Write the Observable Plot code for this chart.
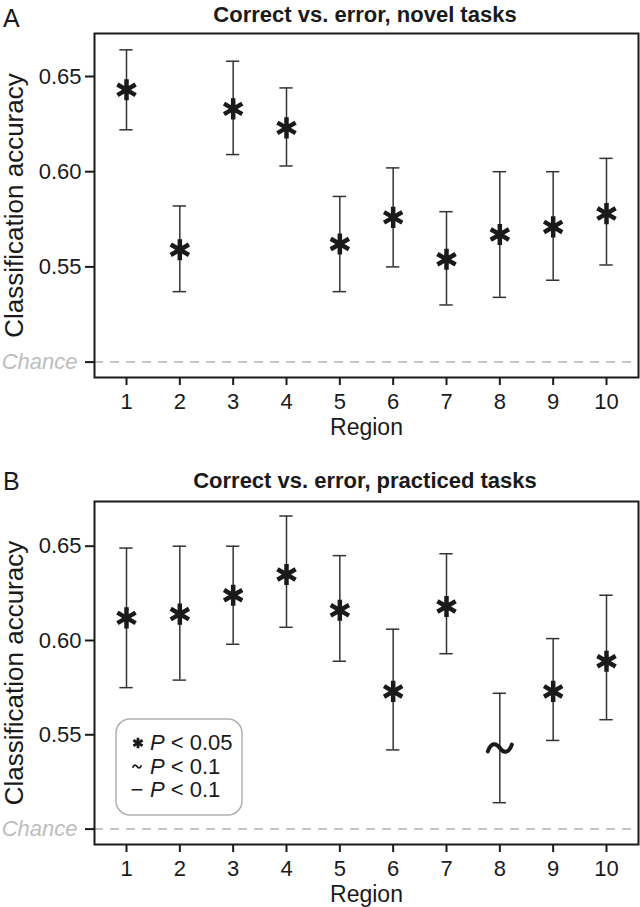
<!DOCTYPE html>
<html><head><meta charset="utf-8">
<script src="https://cdn.jsdelivr.net/npm/d3@7"></script>
<script src="https://cdn.jsdelivr.net/npm/@observablehq/plot@0.6"></script>
<style>
body{margin:0;background:#fff;font-family:"Liberation Sans",Arial,Helvetica,sans-serif;}
#fig{position:relative;width:640px;height:907px;overflow:hidden;}
.panel{position:absolute;left:0;}
#overlay{position:absolute;left:0;top:0;pointer-events:none;}
</style>
</head><body>
<div id="fig"></div>
<script>
// ---- data ----
const regions = [1, 2, 3, 4, 5, 6, 7, 8, 9, 10];
const novelAcc = [0.643, 0.559, 0.633, 0.623, 0.562, 0.576, 0.554, 0.567, 0.571, 0.578];
const novelLo  = [0.622, 0.537, 0.609, 0.603, 0.537, 0.550, 0.530, 0.534, 0.543, 0.551];
const novelHi  = [0.664, 0.582, 0.658, 0.644, 0.587, 0.602, 0.579, 0.600, 0.600, 0.607];
const novelSig = ["*", "*", "*", "*", "*", "*", "*", "*", "*", "*"];
const practAcc = [0.612, 0.614, 0.624, 0.635, 0.616, 0.573, 0.618, 0.543, 0.573, 0.589];
const practLo  = [0.575, 0.579, 0.598, 0.607, 0.589, 0.542, 0.593, 0.514, 0.547, 0.558];
const practHi  = [0.649, 0.650, 0.650, 0.666, 0.645, 0.606, 0.646, 0.572, 0.601, 0.624];
const practSig = ["*", "*", "*", "*", "*", "*", "*", "~", "*", "*"];
const chance = 0.5;
const yTicks = [0.5, 0.55, 0.6, 0.65];
const yTickLabels = ["Chance", "0.55", "0.60", "0.65"];
const titles = ["Correct vs. error, novel tasks", "Correct vs. error, practiced tasks"];
const panelLetters = ["A", "B"];
const legendItems = [["*", "0.05"], ["~", "0.1"], ["\u2212", "0.1"]];

const FONT = "Liberation Sans, Arial, Helvetica, sans-serif";
const INK = "#1a1a1a";

// custom tilde symbol for the "~" significance marker
const tildeSymbol = {
  draw(ctx, size) {
    const w = Math.sqrt(size / Math.PI);
    ctx.moveTo(-w, 0.28 * w);
    ctx.bezierCurveTo(-0.72 * w, -0.5 * w, -0.3 * w, -0.42 * w, 0, 0);
    ctx.bezierCurveTo(0.3 * w, 0.42 * w, 0.72 * w, 0.5 * w, w, -0.28 * w);
  }
};

function panel(acc, lo, hi, sig, yDomain, height, mt, mb) {
  const data = regions.map((r, i) => ({region: r, acc: acc[i], lo: lo[i], hi: hi[i], sig: sig[i]}));
  const cap = 0.125;
  return Plot.plot({
    width: 640, height,
    marginLeft: 94, marginRight: 2, marginTop: mt, marginBottom: mb,
    style: {fontFamily: FONT, fontSize: "22px", color: INK, background: "transparent", overflow: "visible"},
    x: {domain: [0.4, 10.6]},
    y: {domain: yDomain},
    marks: [
      Plot.ruleY([chance], {stroke: "#c4c4c4", strokeWidth: 2, strokeDasharray: "9,7"}),
      Plot.axisX(regions, {tickSize: 8, tickPadding: 8, fontSize: 22, strokeWidth: 2, stroke: INK, label: null, tickFormat: d => String(d)}),
      Plot.text(["Region"], {frameAnchor: "bottom", lineAnchor: "middle", textAnchor: "middle", dy: 50, fontSize: 23, fill: INK}),
      Plot.axisY(yTicks, {tickSize: 9, tickPadding: 4, fontSize: 22, strokeWidth: 2, stroke: INK, label: null,
        tickFormat: d => d === chance ? "" : yTickLabels[yTicks.indexOf(d)]}),
      Plot.text([chance], {y: d => d, frameAnchor: "left", dx: -17, textAnchor: "end", lineAnchor: "middle", fontSize: 22,
        fill: "#bdbdbd", fontStyle: "italic", text: d => yTickLabels[yTicks.indexOf(d)]}),
      Plot.text(["Classification accuracy"], {frameAnchor: "left", textAnchor: "middle", lineAnchor: "middle", dx: -80, rotate: -90, fontSize: 26, fill: INK}),
      Plot.ruleX(data, {x: "region", y1: "lo", y2: "hi", stroke: "#333", strokeWidth: 1.5}),
      Plot.ruleY(data, {y: "lo", x1: d => d.region - cap, x2: d => d.region + cap, stroke: "#333", strokeWidth: 1.5}),
      Plot.ruleY(data, {y: "hi", x1: d => d.region - cap, x2: d => d.region + cap, stroke: "#333", strokeWidth: 1.5}),
      Plot.dot(data.filter(d => d.sig === "*"), {x: "region", y: "acc", symbol: "asterisk", r: 10, stroke: INK, strokeWidth: 4.5}),
      Plot.dot(data.filter(d => d.sig === "~"), {x: "region", y: "acc", symbol: tildeSymbol, r: 12, stroke: INK, strokeWidth: 4, fill: "none", strokeLinecap: "round"}),
      Plot.frame({stroke: INK, strokeWidth: 2})
    ]
  });
}

const fig = document.getElementById("fig");
const pA = panel(novelAcc, novelLo, novelHi, novelSig, [0.49191, 0.67258], 440, 33, 63);
pA.classList.add("panel"); pA.style.top = "0px";
fig.appendChild(pA);
const pB = panel(practAcc, practLo, practHi, practSig, [0.49183, 0.6737], 467, 61, 63);
pB.classList.add("panel"); pB.style.top = "440px";
fig.appendChild(pB);

// ---- overlay: panel letters, titles, legend ----
const ov = d3.select(fig).append("svg").attr("id", "overlay").attr("width", 640).attr("height", 907)
  .style("font-family", FONT);
[[27, 22], [490, 488]].forEach(([ly, ty], i) => {
  ov.append("text").attr("x", 3).attr("y", ly).attr("font-size", 25).attr("fill", INK).text(panelLetters[i]);
  ov.append("text").attr("x", 365).attr("y", ty).attr("text-anchor", "middle").attr("font-size", 22)
    .attr("font-weight", "bold").attr("fill", INK).text(titles[i]);
});
const lg = ov.append("g");
lg.append("rect").attr("x", 116).attr("y", 719).attr("width", 126).attr("height", 96).attr("rx", 14)
  .attr("fill", "white").attr("stroke", "#b0b0b0").attr("stroke-width", 1.5);
legendItems.forEach(([sym, p], i) => {
  const by = 750 + i * 23.5;
  if (sym === "*") {
    lg.append("path").attr("d", d3.symbol(d3.symbolAsterisk, 80)()).attr("transform", `translate(138,${by - 7})`)
      .attr("stroke", INK).attr("stroke-width", 2.8);
  } else if (sym === "~") {
    lg.append("path").attr("d", d3.symbol(tildeSymbol, 60)()).attr("transform", `translate(137,${by - 7})`)
      .attr("stroke", INK).attr("stroke-width", 1.8).attr("fill", "none");
  } else {
    lg.append("text").attr("x", 137).attr("y", by).attr("text-anchor", "middle").attr("font-size", 22).attr("fill", INK).text(sym);
  }
  const t = lg.append("text").attr("x", 150).attr("y", by).attr("font-size", 22).attr("fill", INK);
  t.append("tspan").attr("font-style", "italic").text("P");
  t.append("tspan").text(" < " + p);
});
</script>
</body></html>
